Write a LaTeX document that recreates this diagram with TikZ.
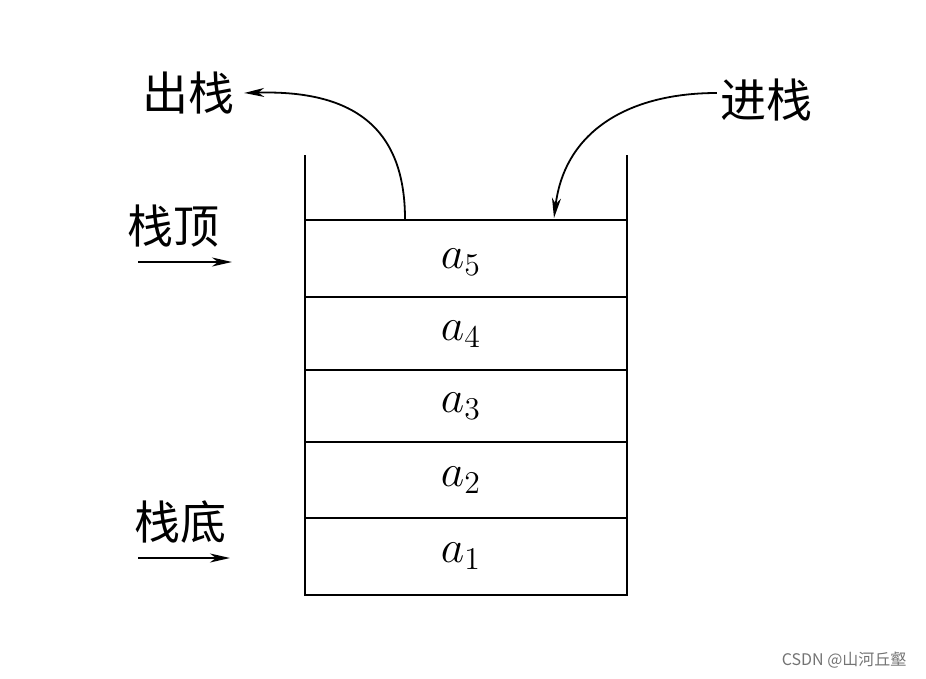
\documentclass[tikz,border=0pt]{standalone}
\usepackage{fontspec}
\newfontfamily\cjk{Noto Sans CJK SC}
\usepackage{tikz}
\usetikzlibrary{arrows.meta,positioning}

\tikzset{
  wall/.style={line width=2.4pt},
  cellval/.style={font=\huge,scale=2.2},
  tag/.style={font=\cjk\fontsize{46}{50}\selectfont,inner sep=0pt},
  flow/.style={line width=1.8pt,-{Stealth[length=20pt,width=9pt,inset=6pt]}}
}

\begin{document}
\begin{tikzpicture}[x=1pt,y=-1pt]
  \useasboundingbox (0,0) rectangle (926,678);
  % the stack walls
  \draw[wall] (305,155) -- (305,595) -- (627,595) -- (627,155);
  \foreach \y in {220,297,370,442,518} {
    \draw[wall] (305,\y) -- (627,\y);
  }
  % elements
  \node[cellval] (a5) at (461,262) {$a_5$};
  \node[cellval] (a4) at (461,334) {$a_4$};
  \node[cellval] (a3) at (461,406) {$a_3$};
  \node[cellval] (a2) at (461,480) {$a_2$};
  \node[cellval] (a1) at (461,556) {$a_1$};
  % labels
  \node[tag] (pop) at (188,93) {出栈};
  \node[tag] (push) at (766,100) {进栈};
  \node[tag] (top) at (173,226) {栈顶};
  \node[tag] (bottom) at (180,522) {栈底};
  \coordinate (popfoot) at (405,219);
  \coordinate (pushfoot) at (554,218);
  % pop and push
  \draw[flow] (popfoot) .. controls (405,125) and (350,90) .. ([xshift=10pt]pop.east);
  \draw[flow] ([xshift=-3pt]push.west |- 0,93) .. controls (630,93) and (565,130) .. (pushfoot);
  % pointers
  \coordinate (topend) at (232,262);
  \coordinate (bottomend) at (230,558);
  \draw[flow] (138,262) -- (topend);
  \draw[flow] (138,558) -- (bottomend);
  % watermark
  \node[font=\cjk\fontsize{16}{18}\selectfont,text=black!55,anchor=east] (mark) at (910,660) {CSDN @山河丘壑};
\end{tikzpicture}
\end{document}
